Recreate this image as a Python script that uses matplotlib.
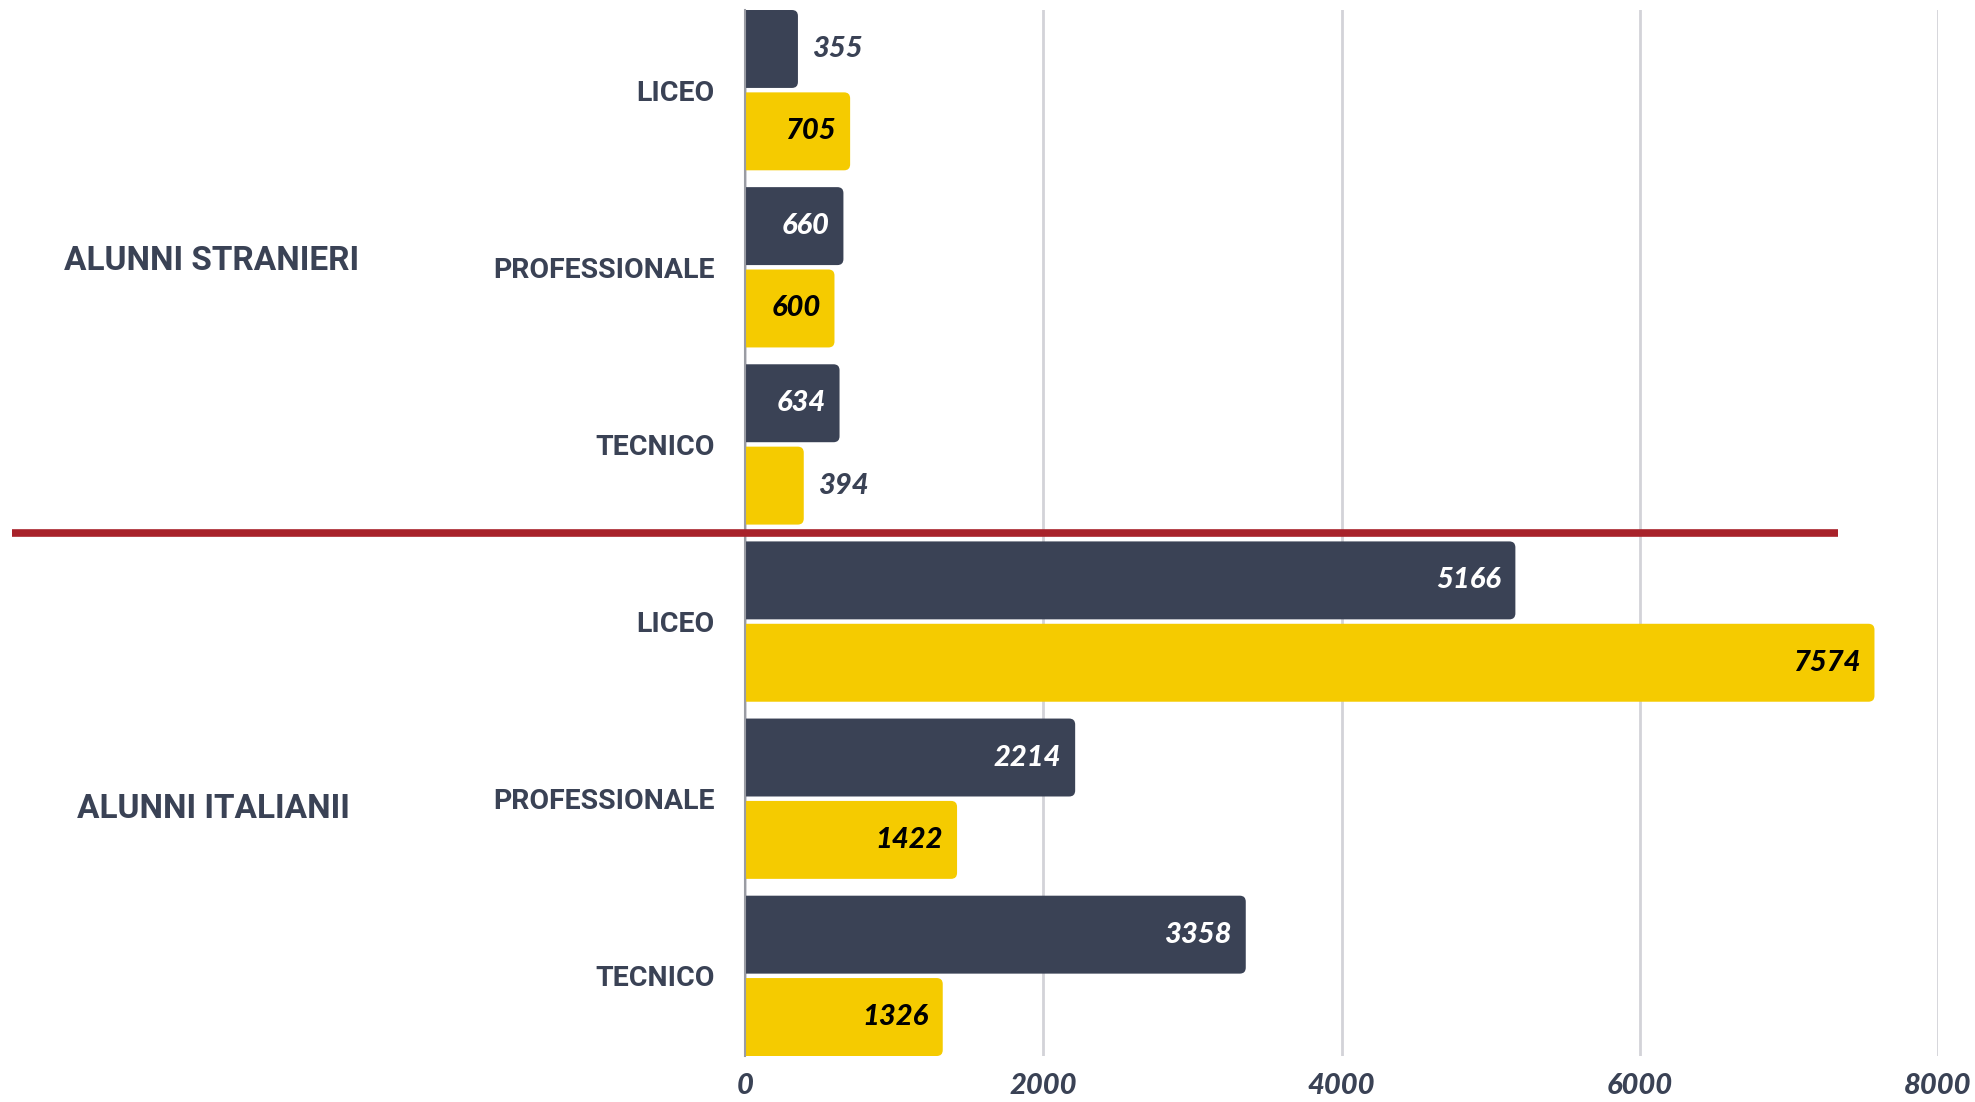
import matplotlib
matplotlib.use("Agg")
import matplotlib.pyplot as plt
from matplotlib.patches import FancyBboxPatch
from matplotlib import font_manager as fm
import numpy as np

# ---- data ----
groups = ["ALUNNI STRANIERI", "ALUNNI ITALIANII"]
categories = ["LICEO", "PROFESSIONALE", "TECNICO", "LICEO", "PROFESSIONALE", "TECNICO"]
series_dark = [355, 660, 634, 5166, 2214, 3358]
series_yellow = [705, 600, 394, 7574, 1422, 1326]
xticks = [0, 2000, 4000, 6000, 8000]

DARK = "#3A4255"
YELLOW = "#F5CB00"
RED = "#A8222A"
GRID = "#D3D3D8"

names = {f.name for f in fm.fontManager.ttflist}
cat_family = ["Liberation Sans Narrow", "DejaVu Sans"] if "Liberation Sans Narrow" in names else ["Roboto", "DejaVu Sans"]
num_family = ["Lato", "DejaVu Sans"]

W, H = 1975, 1102
fig = plt.figure(figsize=(W / 100, H / 100), dpi=100)
ax_top, ax_bot = 10, 1056
ax = fig.add_axes([745 / W, 1 - ax_bot / H, (1938 - 745) / W, (ax_bot - ax_top) / H])

n = len(categories)
y = np.arange(n)
bh = 0.44
inner = 0.025
off = (bh + inner) / 2
edge = 0.5 - bh - inner / 2  # half of the gap between groups
bars_d = ax.barh(y - off, series_dark, height=bh, color=DARK)
bars_y = ax.barh(y + off, series_yellow, height=bh, color=YELLOW)

ax.set_xlim(0, 8000)
ax.set_ylim(n - 0.5 - edge, -0.5 + edge)

# rounded corners
xpp = 8000 / (1938 - 745)
ypp = (n - 2 * edge) / (ax_bot - ax_top)
rs = 6 * xpp
for bars in (bars_d, bars_y):
    for r in bars:
        x0, y0, w, h = r.get_x(), r.get_y(), r.get_width(), r.get_height()
        fc = r.get_facecolor()
        r.set_visible(False)
        p = FancyBboxPatch((x0 - 2 * rs, y0), w + 2 * rs, h,
                           boxstyle=f"round,pad=0,rounding_size={rs}",
                           mutation_aspect=ypp / xpp, fc=fc, ec="none", zorder=2)
        ax.add_patch(p)

# value labels
pad = 14 * xpp
for vals, yy, incol in ((series_dark, y - off, "white"), (series_yellow, y + off, "black")):
    for v, yc in zip(vals, yy):
        if v < 500:
            ax.text(v + pad, yc, str(v), ha="left", va="center", color=DARK,
                    fontsize=21, family=num_family, weight="black", style="italic", zorder=3)
        else:
            ax.text(v - pad, yc, str(v), ha="right", va="center", color=incol,
                    fontsize=21, family=num_family, weight="black", style="italic", zorder=3)

# axes styling
ax.set_xticks(xticks)
ax.set_xticklabels([str(t) for t in xticks])
ax.set_yticks(y)
ax.set_yticklabels(categories)
for lab in ax.get_yticklabels():
    lab.set_family(cat_family)
    lab.set_weight("bold")
    lab.set_fontsize(20.5)
    lab.set_color(DARK)
for lab in ax.get_xticklabels():
    lab.set_family(num_family)
    lab.set_weight("black")
    lab.set_style("italic")
    lab.set_fontsize(21)
    lab.set_color(DARK)
ax.tick_params(axis="both", length=0)
ax.tick_params(axis="y", pad=22)
ax.tick_params(axis="x", pad=12)
for s in ("top", "right", "bottom"):
    ax.spines[s].set_visible(False)
ax.spines["left"].set_color("#9A9CA3")
ax.spines["left"].set_linewidth(1.5)
ax.spines["left"].set_zorder(4)
ax.xaxis.grid(True, color=GRID, lw=2)
ax.set_axisbelow(True)

# separator line
ax.axhline(2.5, xmin=(12 - 745) / 1193, xmax=(1838 - 745) / 1193, color=RED, lw=5.5,
           clip_on=False, zorder=5, solid_capstyle="butt")

# group labels
fig.text(212 / W, 1 - 261 / H, groups[0], ha="center", va="center", color=DARK,
         fontsize=24, family=cat_family, weight="bold")
fig.text(213 / W, 1 - 809 / H, groups[1], ha="center", va="center", color=DARK,
         fontsize=24, family=cat_family, weight="bold")

fig.savefig("out.png", dpi=100, facecolor="white")
